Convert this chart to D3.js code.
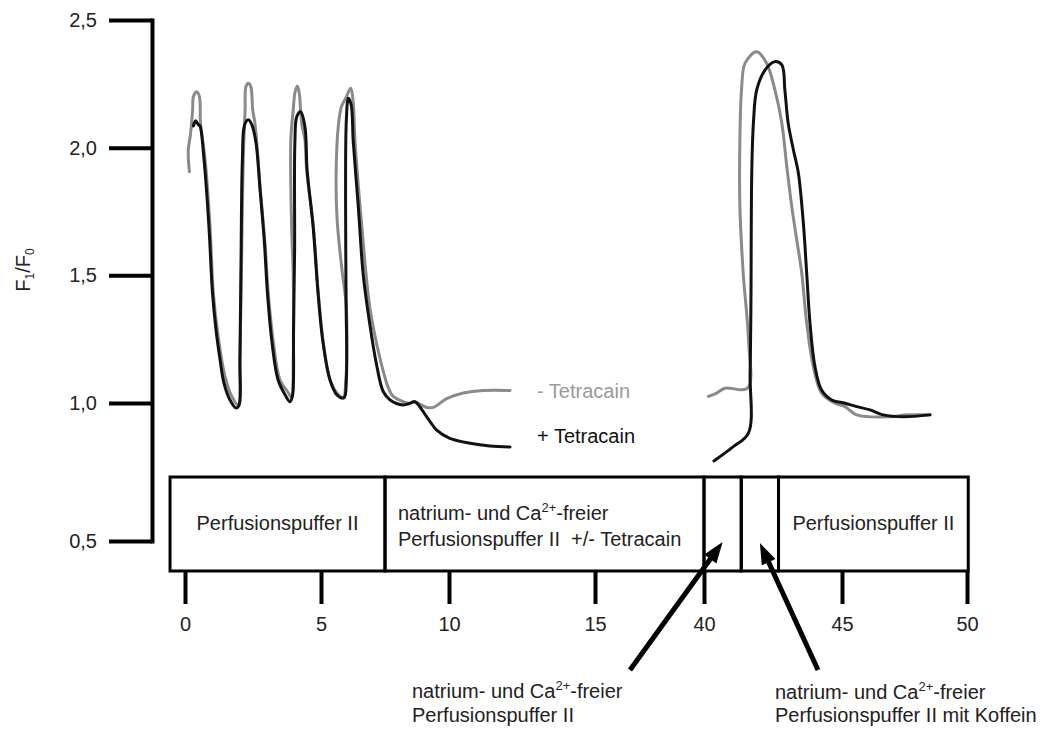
<!DOCTYPE html>
<html><head><meta charset="utf-8">
<script src="https://cdn.jsdelivr.net/npm/d3@7"></script>
<style>
html,body{margin:0;padding:0;background:#fff;}
svg{display:block;font-family:"Liberation Sans",Arial,Helvetica,sans-serif;}
</style></head><body>
<svg id="chart" width="1047" height="729"></svg>
<script>
// ---------- data ----------
const xTicks = [0, 5, 10, 15, 40, 45, 50];
const yTicks = [0.5, 1.0, 1.5, 2.0, 2.5];

// - Tetracain (grey), time [min] / F1/F0
const minusTetracainA = [[0.16,1.906],[0.12,1.991],[0.20,2.05],[0.28,2.148],[0.31,2.20],[0.43,2.219],[0.53,2.20],[0.57,2.096],[0.74,1.952],[0.92,1.691],[1.04,1.432],[1.22,1.26],[1.47,1.104],[1.72,1.026],[1.96,0.993],[2.02,1.169],[2.08,1.561],[2.14,1.952],[2.21,2.148],[2.24,2.239],[2.33,2.252],[2.42,2.239],[2.49,2.148],[2.57,2.096],[2.64,2.019],[2.76,1.848],[2.94,1.627],[3.06,1.432],[3.25,1.236],[3.49,1.091],[3.80,1.040],[3.92,1.021],[3.98,1.169],[3.98,1.495],[3.92,1.691],[3.89,2.03],[3.98,2.148],[4.04,2.214],[4.13,2.242],[4.20,2.214],[4.25,2.148],[4.30,2.089],[4.41,2.03],[4.47,1.913],[4.72,1.691],[4.90,1.432],[5.09,1.236],[5.35,1.091],[5.68,1.032],[5.87,1.020],[5.97,1.091],[5.99,1.373],[5.81,1.529],[5.63,1.717],[5.59,1.893],[5.68,2.089],[5.80,2.161],[5.99,2.199],[6.16,2.233],[6.25,2.187],[6.33,2.024],[6.59,1.698],[6.91,1.373],[7.30,1.177],[7.63,1.060],[7.82,1.026],[8.48,0.999],[8.61,1.006],[9.13,0.984],[9.39,0.984],[9.91,1.017],[10.49,1.039],[11.17,1.049],[12.09,1.049]];
const minusTetracainB = [[40.16,1.026],[40.46,1.039],[40.76,1.058],[41.58,1.058],[41.61,1.248],[41.42,1.51],[41.30,1.769],[41.30,2.03],[41.36,2.226],[41.49,2.331],[41.91,2.376],[42.27,2.331],[42.57,2.226],[42.82,2.096],[43.00,1.926],[43.18,1.769],[43.36,1.639],[43.54,1.51],[43.72,1.314],[43.96,1.143],[44.26,1.039],[44.75,0.999],[45.12,0.987],[45.59,0.957],[46.92,0.950],[47.59,0.957],[48.52,0.957]];

// + Tetracain (black)
const plusTetracainA = [[0.31,2.085],[0.39,2.105],[0.49,2.09],[0.55,2.085],[0.70,1.952],[0.88,1.691],[1.01,1.432],[1.14,1.287],[1.29,1.169],[1.43,1.079],[1.65,1.013],[1.88,0.982],[1.99,0.993],[2.02,1.169],[2.06,1.561],[2.11,1.952],[2.19,2.089],[2.33,2.109],[2.46,2.089],[2.61,2.019],[2.76,1.835],[2.92,1.627],[3.03,1.432],[3.20,1.236],[3.42,1.091],[3.68,1.032],[3.86,1.005],[3.95,1.028],[3.99,1.287],[4.03,1.60],[4.04,2.019],[4.11,2.122],[4.25,2.141],[4.41,2.082],[4.49,1.913],[4.71,1.691],[4.89,1.432],[5.08,1.236],[5.35,1.091],[5.62,1.032],[5.90,1.021],[5.99,1.091],[5.98,1.404],[5.96,1.796],[5.99,2.109],[6.07,2.194],[6.18,2.167],[6.26,2.024],[6.46,1.764],[6.65,1.502],[6.91,1.306],[7.17,1.150],[7.43,1.045],[7.70,1.012],[8.21,0.993],[8.48,0.999],[8.67,1.005],[9.13,0.950],[9.52,0.902],[10.03,0.872],[10.72,0.854],[11.40,0.844],[12.09,0.841]];
const plusTetracainB = [[40.36,0.79],[41.05,0.841],[41.61,0.891],[41.67,1.116],[41.70,1.377],[41.73,1.90],[41.79,2.096],[41.91,2.226],[42.21,2.304],[42.57,2.337],[42.82,2.324],[42.93,2.226],[43.05,2.096],[43.24,1.991],[43.42,1.90],[43.60,1.704],[43.72,1.51],[43.84,1.314],[44.02,1.143],[44.26,1.051],[44.63,1.012],[45.12,0.999],[45.59,0.987],[46.12,0.975],[46.65,0.957],[47.45,0.950],[48.52,0.957]];

// perfusion phases (boundaries in time units)
const phaseBounds = [-0.55, 7.5, 40, 41.35, 42.7, 50.05];
const phaseLabels = [
  [["Perfusionspuffer II"]],
  [["natrium- und Ca", "^2+", "-freier"], ["Perfusionspuffer II\u00a0\u00a0+/- Tetracain"]],
  [],
  [],
  [["Perfusionspuffer II"]]
];
const seriesLabels = ["- Tetracain", "+ Tetracain"];
const noteLeft = [["natrium- und Ca", "^2+", "-freier"], ["Perfusionspuffer II"]];
const noteRight = [["natrium- und Ca", "^2+", "-freier"], ["Perfusionspuffer II mit Koffein"]];

// ---------- drawing ----------
const svg = d3.select("#chart");
const FS = 20;
const GREY = "#8a8a8a";
const BLACK = "#111";

const x = d3.scaleLinear().domain(xTicks).range([185, 321, 449, 595, 704, 842, 967]);
const y = d3.scaleLinear().domain([0.5, 1.0, 2.5]).range([541, 403, 20]);

// y axis
const gy = svg.append("g").attr("transform", "translate(152,0)")
  .call(d3.axisLeft(y).tickValues(yTicks).tickSize(43).tickSizeOuter(0).tickPadding(12)
    .tickFormat(d => d3.format(".1f")(d).replace(".", ",")));
gy.attr("font-size", FS).attr("font-family", null);
gy.select(".domain").attr("stroke", "#000").attr("stroke-width", 4).attr("stroke-linecap", "square");
gy.selectAll(".tick line").attr("stroke", "#000").attr("stroke-width", 4);
gy.selectAll(".tick text").attr("fill", "#222");

// y label F1/F0
const yl = svg.append("text").attr("transform", "translate(30,270) rotate(-90)")
  .attr("text-anchor", "middle").attr("font-size", FS).attr("fill", "#222");
yl.append("tspan").text("F");
yl.append("tspan").attr("font-size", 12).attr("dy", 4).text("1");
yl.append("tspan").attr("dy", -4).text("/F");
yl.append("tspan").attr("font-size", 12).attr("dy", 4).text("0");

// x axis (ticks hang below the phase box)
const boxTop = 477, boxBottom = 571;
const gx = svg.append("g").attr("transform", `translate(0,${boxBottom})`)
  .call(d3.axisBottom(x).tickValues(xTicks).tickSize(33).tickSizeOuter(0).tickPadding(13));
gx.attr("font-size", FS).attr("font-family", null);
gx.select(".domain").remove();
gx.selectAll(".tick line").attr("stroke", "#000").attr("stroke-width", 4);
gx.selectAll(".tick text").attr("fill", "#222");

// rich text helper (supports "^sup" segments)
function richText(g, lines, xPos, yPos, lineH, anchor) {
  lines.forEach((parts, i) => {
    const t = g.append("text").attr("x", xPos).attr("y", yPos + i * lineH)
      .attr("font-size", FS).attr("fill", "#222").attr("text-anchor", anchor || "start");
    let up = false;
    parts.forEach(p => {
      if (p.startsWith("^")) {
        t.append("tspan").attr("font-size", 13).attr("dy", -8).text(p.slice(1));
        up = true;
      } else {
        const s = t.append("tspan").text(p);
        if (up) { s.attr("dy", 8); up = false; }
      }
    });
  });
}

// phase box
const cells = d3.range(phaseBounds.length - 1).map(i => ({ a: phaseBounds[i], b: phaseBounds[i + 1], lab: phaseLabels[i] }));
const gb = svg.append("g");
gb.selectAll("rect").data(cells).join("rect")
  .attr("x", d => x(d.a)).attr("y", boxTop)
  .attr("width", d => x(d.b) - x(d.a)).attr("height", boxBottom - boxTop)
  .attr("fill", "none").attr("stroke", "#000").attr("stroke-width", 3);
cells.forEach((c, i) => {
  if (!c.lab.length) return;
  if (c.lab.length === 1) {
    richText(gb, c.lab, (x(c.a) + x(c.b)) / 2, 530, 25, "middle");
  } else {
    richText(gb, c.lab, x(c.a) + 13, 520, 25.5, "start");
  }
});

// traces
const line = d3.line().x(d => x(d[0])).y(d => y(d[1])).curve(d3.curveCatmullRom.alpha(0.5));
const traces = [
  { d: minusTetracainA, c: GREY }, { d: minusTetracainB, c: GREY },
  { d: plusTetracainA, c: BLACK }, { d: plusTetracainB, c: BLACK }
];
svg.append("g").selectAll("path").data(traces).join("path")
  .attr("d", d => line(d.d)).attr("fill", "none").attr("stroke", d => d.c)
  .attr("stroke-width", 3).attr("stroke-linejoin", "round").attr("stroke-linecap", "round");

// series labels
svg.append("text").attr("x", 537).attr("y", y(1.0) - 5).attr("font-size", FS).attr("fill", "#9a9a9a").text(seriesLabels[0]);
svg.append("text").attr("x", 537).attr("y", 443).attr("font-size", FS).attr("fill", "#111").text(seriesLabels[1]);

// arrows pointing into the short phases
function arrow(tail, tip) {
  const dx = tip[0] - tail[0], dy = tip[1] - tail[1];
  const len = Math.hypot(dx, dy), ux = dx / len, uy = dy / len, nx = -uy, ny = ux;
  const L = 21, W = 7.5;
  const bx = tip[0] - L * ux, by = tip[1] - L * uy;
  svg.append("line").attr("x1", tail[0]).attr("y1", tail[1]).attr("x2", bx + 4 * ux).attr("y2", by + 4 * uy)
    .attr("stroke", "#000").attr("stroke-width", 5);
  svg.append("path").attr("d", `M${tip[0]},${tip[1]}L${bx + W * nx},${by + W * ny}L${bx - W * nx},${by - W * ny}Z`)
    .attr("fill", "#000");
}
arrow([630, 670], [(x(phaseBounds[2]) + x(phaseBounds[3])) / 2, 542]);
arrow([818, 670], [(x(phaseBounds[3]) + x(phaseBounds[4])) / 2, 543]);

richText(svg, noteLeft, 412, 698, 24, "start");
richText(svg, noteRight, 775, 699, 23, "start");
</script>
</body></html>
